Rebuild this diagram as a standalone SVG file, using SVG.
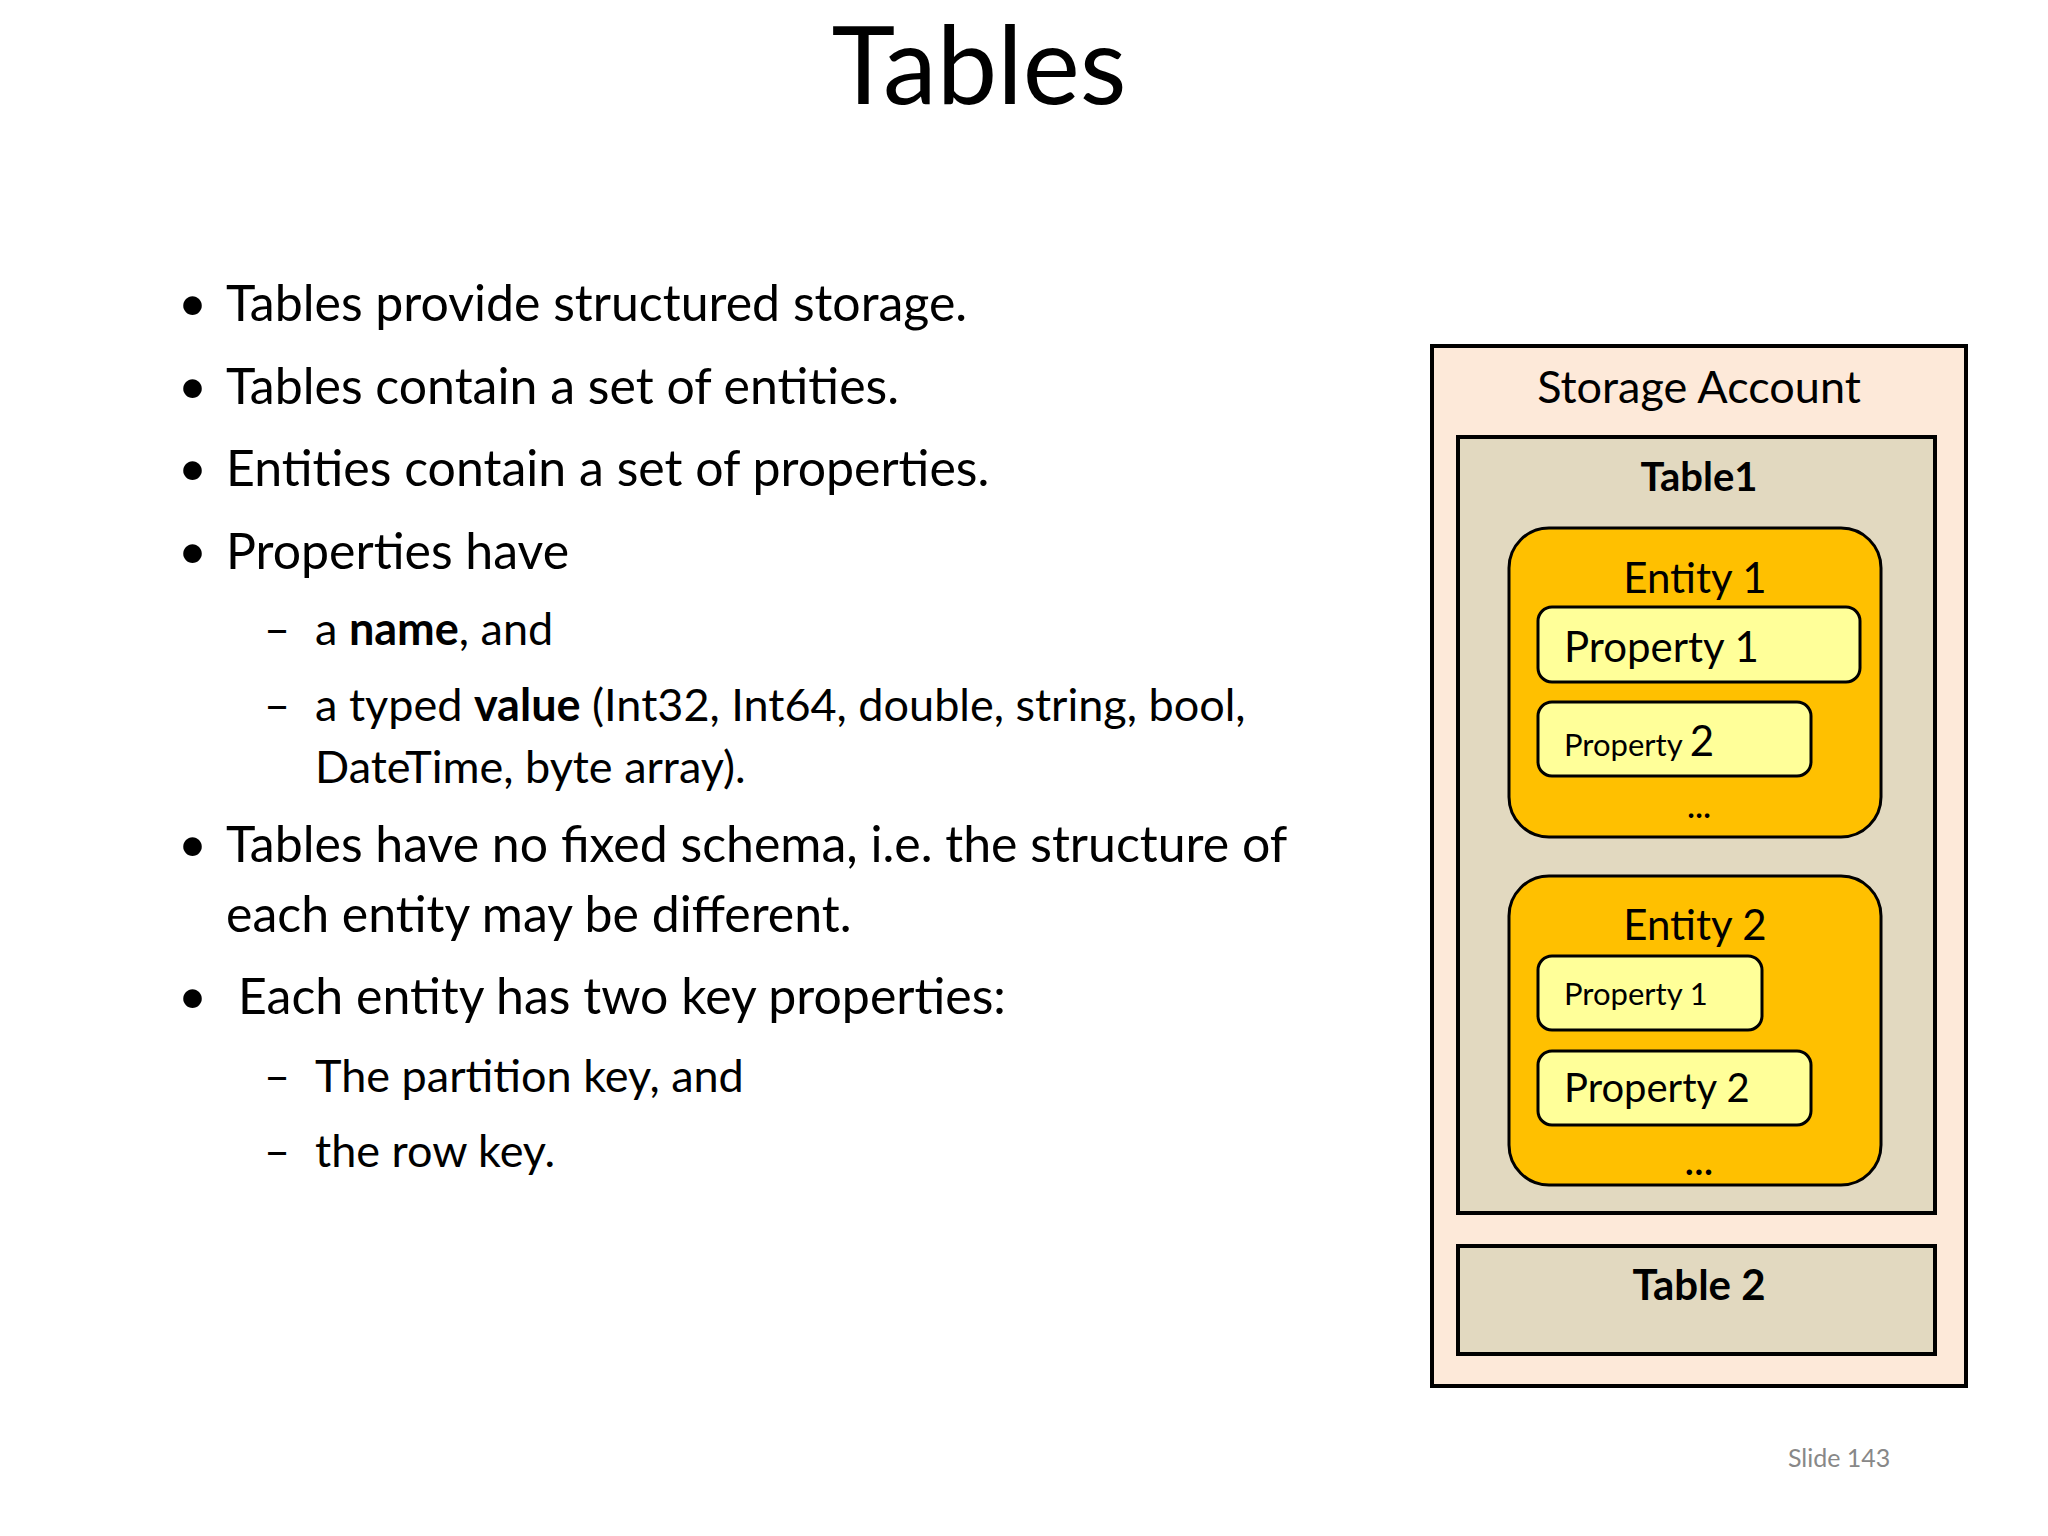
<svg xmlns="http://www.w3.org/2000/svg" width="2048" height="1536" viewBox="0 0 2048 1536">
<style>
text{font-family:Lato,"Open Sans","Liberation Sans",sans-serif;fill:#000}
.b{font-size:50px}.s{font-size:45px}
.box{stroke:#000;stroke-width:4}
.prop{fill:#ffff99;stroke:#000;stroke-width:3}
.ent{fill:#ffc000;stroke:#000;stroke-width:3}
.c{text-anchor:middle}
</style>
<rect width="2048" height="1536" fill="#fff"/>
<text x="979" y="104" class="c" font-size="108">Tables</text>
<g id="bullets">
<text x="178" y="321" class="b">•</text><text x="226" y="321" class="b">Tables provide structured storage.</text>
<text x="178" y="404" class="b">•</text><text x="226" y="404" class="b">Tables contain a set of entities.</text>
<text x="178" y="486" class="b">•</text><text x="226" y="486" class="b">Entities contain a set of properties.</text>
<text x="178" y="569" class="b">•</text><text x="226" y="569" class="b">Properties have</text>
<text x="264" y="645" class="s">–</text><text x="315" y="645" class="s">a <tspan font-weight="bold">name</tspan>, and</text>
<text x="264" y="721" class="s">–</text><text x="315" y="721" class="s">a typed <tspan font-weight="bold">value</tspan> (Int32, Int64, double, string, bool,</text>
<text x="315" y="783" class="s">DateTime, byte array).</text>
<text x="178" y="862" class="b">•</text><text x="226" y="862" class="b">Tables have no fixed schema, i.e. the structure of</text>
<text x="226" y="932" class="b">each entity may be different.</text>
<text x="178" y="1014" class="b">•</text><text x="238" y="1014" class="b">Each entity has two key properties:</text>
<text x="264" y="1092" class="s">–</text><text x="315" y="1092" class="s">The partition key, and</text>
<text x="264" y="1167" class="s">–</text><text x="315" y="1167" class="s">the row key.</text>
</g>
<g id="storage"><rect x="1432" y="346" width="534" height="1040" fill="#fde9d9" class="box"/>
<text x="1699" y="403" class="c" font-size="45">Storage Account</text></g>
<g id="table1"><rect x="1458" y="437" width="477" height="776" fill="#e2d9c0" class="box"/>
<text x="1699" y="491" class="c" font-size="40" font-weight="bold">Table1</text></g>
<g id="entity1"><rect x="1509" y="528" width="372" height="309" rx="40" class="ent"/>
<text x="1695" y="593" class="c" font-size="42">Entity 1</text>
<text x="1699" y="818" class="c" font-size="30" font-weight="bold">…</text></g>
<g id="e1p1"><rect x="1538" y="607" width="322" height="75" rx="14" class="prop"/>
<text x="1564" y="662" font-size="42">Property 1</text></g>
<g id="e1p2"><rect x="1538" y="702" width="273" height="74" rx="14" class="prop"/>
<text x="1564" y="756"><tspan font-size="31">Property </tspan><tspan font-size="42">2</tspan></text></g>
<g id="entity2"><rect x="1509" y="876" width="372" height="309" rx="40" class="ent"/>
<text x="1695" y="940" class="c" font-size="42">Entity 2</text>
<text x="1699" y="1175" class="c" font-size="36" font-weight="bold">…</text></g>
<g id="e2p1"><rect x="1538" y="956" width="224" height="74" rx="14" class="prop"/>
<text x="1564" y="1005" font-size="31">Property 1</text></g>
<g id="e2p2"><rect x="1538" y="1051" width="273" height="74" rx="14" class="prop"/>
<text x="1564" y="1102" font-size="40">Property 2</text></g>
<g id="table2"><rect x="1458" y="1246" width="477" height="108" fill="#e2d9c0" class="box"/>
<text x="1699" y="1300" class="c" font-size="42" font-weight="bold">Table 2</text></g>
<g id="connectors"/>
<text x="1788" y="1467" font-size="25" style="fill:#888">Slide 143</text>
</svg>
